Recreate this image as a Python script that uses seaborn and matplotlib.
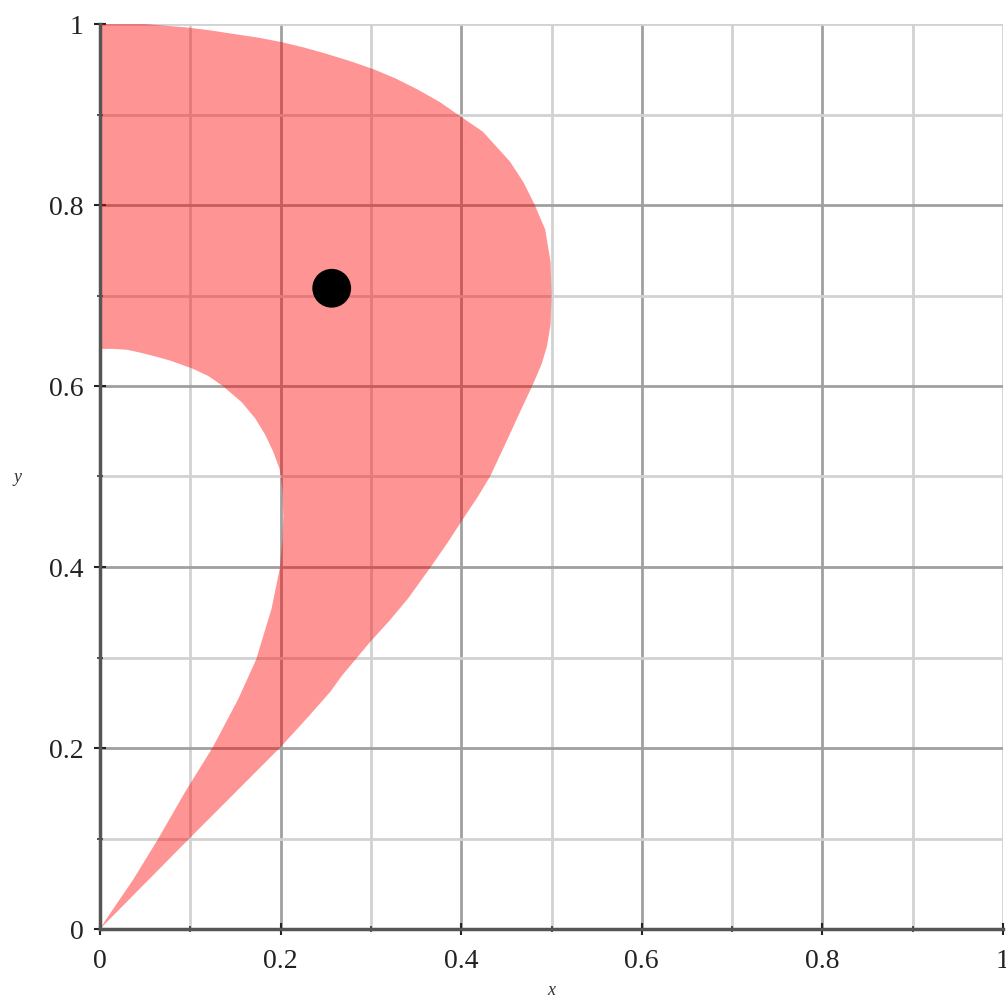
import numpy as np
import pandas as pd
import seaborn as sns
import matplotlib.pyplot as plt
import matplotlib.ticker as ticker

# outer boundary of the shaded region, from the origin up and round to (0, 1)
outer_x = [0.0, 0.098, 0.2, 0.232, 0.255, 0.268, 0.299, 0.320, 0.341, 0.367, 0.385,
           0.402, 0.418, 0.432, 0.448, 0.465, 0.480, 0.489, 0.495, 0.499, 0.5,
           0.499, 0.493, 0.481, 0.469, 0.454, 0.424, 0.399, 0.376, 0.351, 0.327,
           0.303, 0.277, 0.251, 0.226, 0.201, 0.175, 0.148, 0.122, 0.098, 0.05, 0.0]
outer_y = [0.0, 0.099, 0.201, 0.236, 0.262, 0.28, 0.317, 0.340, 0.365, 0.401, 0.427,
           0.453, 0.477, 0.5, 0.534, 0.571, 0.603, 0.624, 0.644, 0.668, 0.7,
           0.737, 0.773, 0.801, 0.825, 0.848, 0.881, 0.898, 0.914, 0.928, 0.940,
           0.95, 0.959, 0.967, 0.974, 0.98, 0.985, 0.989, 0.993, 0.996, 1.0, 1.0]

# inner boundary (the hollow on the left), from (0, 0.641) back down to the origin
inner_x = [0.0, 0.015, 0.030, 0.044, 0.060, 0.078, 0.103, 0.120, 0.136, 0.157,
           0.172, 0.183, 0.192, 0.199, 0.202, 0.203, 0.202, 0.199, 0.190, 0.173,
           0.153, 0.125, 0.094, 0.064, 0.037, 0.007, 0.0]
inner_y = [0.641, 0.641, 0.640, 0.637, 0.633, 0.628, 0.619, 0.611, 0.600, 0.582,
           0.564, 0.546, 0.527, 0.508, 0.485, 0.456, 0.430, 0.398, 0.354, 0.298,
           0.254, 0.201, 0.151, 0.099, 0.055, 0.011, 0.0]

point_x = [0.2566]
point_y = [0.708]

major_ticks = [0.0, 0.2, 0.4, 0.6, 0.8, 1.0]
tick_labels = ["0", "0.2", "0.4", "0.6", "0.8", "1"]

sns.set_theme(style="white")
plt.rcParams["font.family"] = ["Liberation Serif", "DejaVu Serif"]

fig = plt.figure(figsize=(10.06, 10.04), dpi=100)
ax = fig.add_axes([100 / 1006, 74 / 1004, 903 / 1006, 905 / 1004])

region = pd.DataFrame({"x": outer_x + inner_x, "y": outer_y + inner_y})
ax.fill(region["x"], region["y"], color="red", alpha=0.42, lw=0, zorder=3)

sns.scatterplot(x=point_x, y=point_y, color="black", s=780, edgecolor="none",
                ax=ax, zorder=4)

ax.set_xlim(0, 1)
ax.set_ylim(0, 1)
ax.set_xticks(major_ticks)
ax.set_yticks(major_ticks)
ax.set_xticklabels(tick_labels)
ax.set_yticklabels(tick_labels)
ax.xaxis.set_minor_locator(ticker.MultipleLocator(0.1))
ax.yaxis.set_minor_locator(ticker.MultipleLocator(0.1))

ax.set_axisbelow(True)
ax.grid(True, which="major", color="#a0a0a0", linewidth=2.0, zorder=0)
ax.grid(True, which="minor", color="#d2d2d2", linewidth=2.0, zorder=0)
# the frame lines at 1 are light like the minor grid
ax.xaxis.get_gridlines()[-1].set_color("#d2d2d2")
ax.yaxis.get_gridlines()[-1].set_color("#d2d2d2")

for side in ["top", "right"]:
    ax.spines[side].set_visible(False)
for side in ["left", "bottom"]:
    ax.spines[side].set_color("#555555")
    ax.spines[side].set_linewidth(2.5)
    ax.spines[side].set_zorder(5)

ax.tick_params(which="major", direction="inout", length=8, width=1.5,
               colors="#222222", labelsize=20, pad=8, left=True, bottom=True)
ax.tick_params(which="minor", direction="inout", length=4, width=1.2,
               colors="#333333", left=True, bottom=True)
ax.tick_params(axis="x", which="major", pad=10)

ax.set_xlabel("x", fontsize=13, style="italic", color="#333333")
ax.xaxis.set_label_coords(0.5, -0.058)
ax.set_ylabel("y", fontsize=13, style="italic", color="#333333", rotation=0,
              va="center", ha="center")
ax.yaxis.set_label_coords(-0.091, 0.5)

fig.savefig("out.png", dpi=100)
plt.close(fig)
